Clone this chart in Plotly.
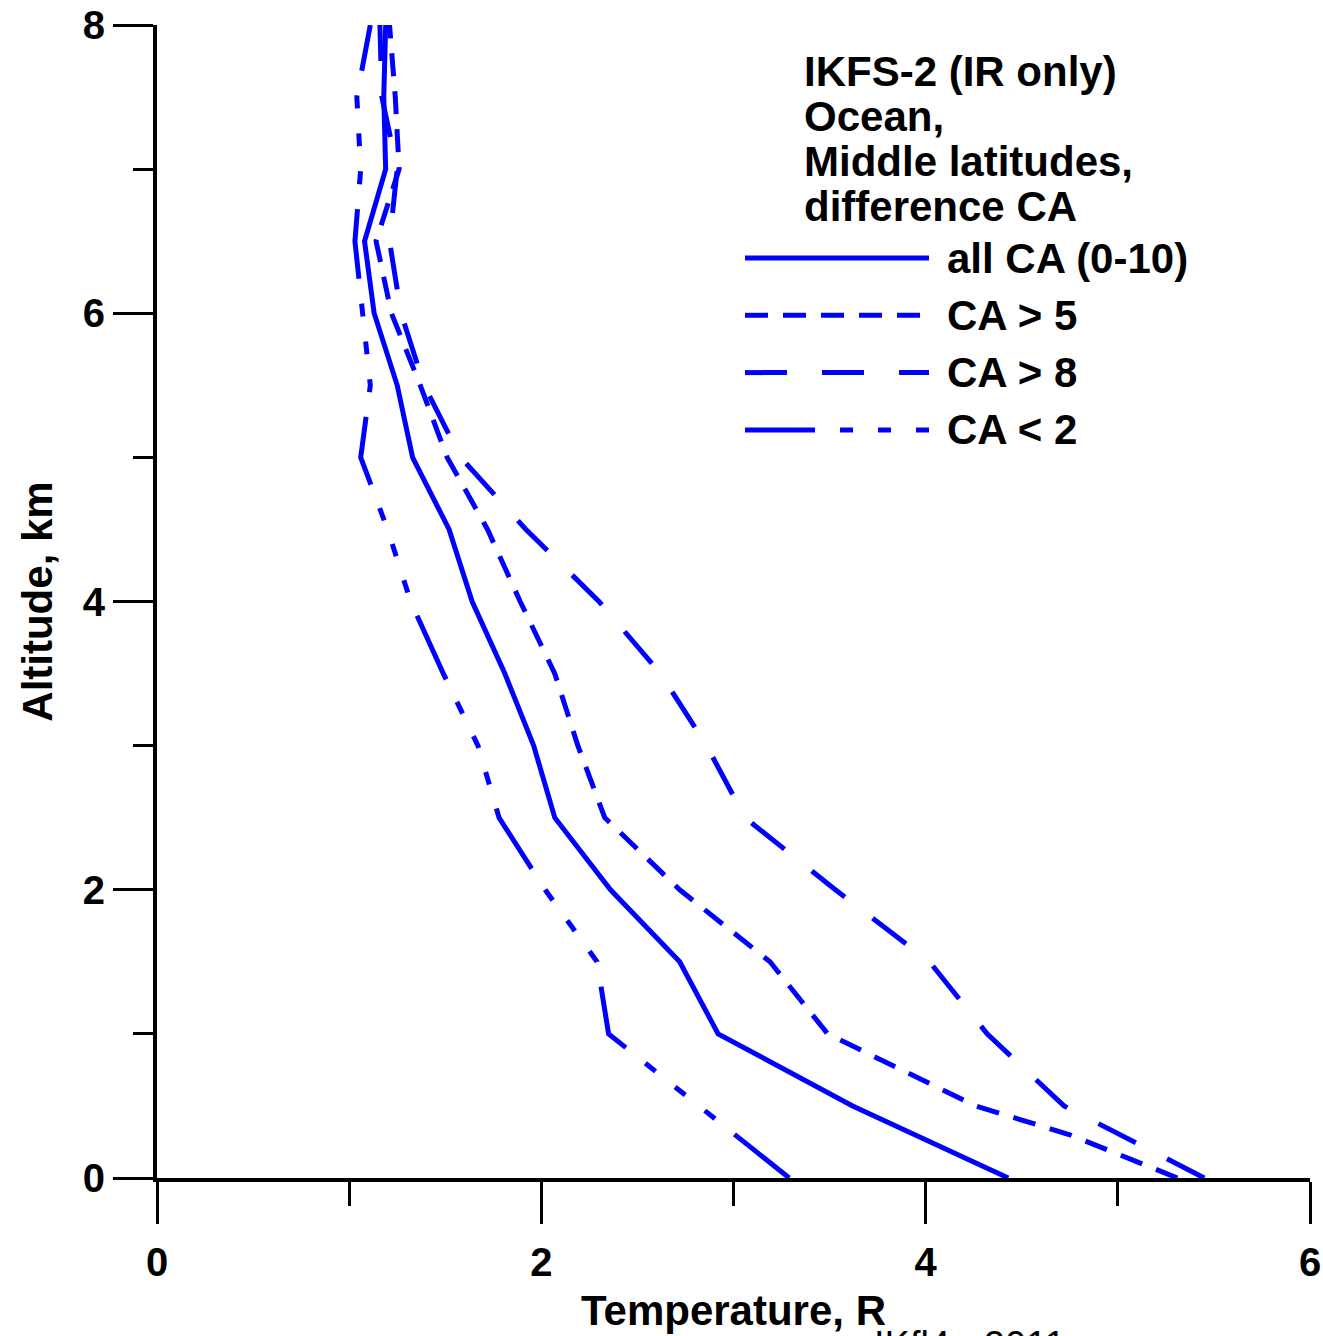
import plotly.graph_objects as go

# ---------------- data ----------------
alt = [0, 0.5, 1, 1.5, 2, 2.5, 3, 3.5, 4, 4.5, 5, 5.5, 6, 6.5, 7, 7.5, 8]
alt_ca5 = [0, 0.3, 0.5, 1, 1.5, 2, 2.5, 3, 3.5, 4, 4.5, 5, 5.5, 6, 6.5, 7, 7.5, 8]

all_ca = [4.43, 3.62, 2.92, 2.72, 2.36, 2.07, 1.96, 1.81, 1.64, 1.52, 1.33, 1.25, 1.13, 1.08, 1.19, 1.18, 1.19]
ca_gt5 = [5.31, 4.75, 4.26, 3.49, 3.19, 2.72, 2.33, 2.19, 2.07, 1.89, 1.72, 1.51, 1.37, 1.22, 1.14, 1.26, 1.24, 1.21]
ca_gt8 = [5.45, 4.72, 4.32, 4.02, 3.53, 3.06, 2.86, 2.62, 2.30, 1.92, 1.58, 1.39, 1.27, 1.21, 1.25, 1.17, 1.16]
ca_lt2 = [3.29, 2.82, 2.35, 2.29, 2.02, 1.78, 1.67, 1.49, 1.32, 1.20, 1.06, 1.11, 1.07, 1.03, 1.06, 1.04, 1.11]

series_names = ["all CA (0-10)", "CA > 5", "CA > 8", "CA < 2"]
title_lines = ["IKFS-2 (IR only)", "Ocean,", "Middle latitudes,", "difference CA"]
x_ticks = [0, 2, 4, 6]
y_ticks = [0, 2, 4, 6, 8]
footer_text = "IKfl4 - 2011"

# ---------------- styles ----------------
BLUE = "#0000FF"
FONT = "Arial, Liberation Sans, sans-serif"
W, H = 1323, 1336
ML, MR, MT, MB = 157, 13, 25, 158
PW, PH = W - ML - MR, H - MT - MB

dashes = ["solid", "23px,15px", "42px,35px", "70px,25px,13px,25px,13px,25px,13px,25px"]
xs = [all_ca, ca_gt5, ca_gt8, ca_lt2]
ys = [alt, alt_ca5, alt, alt]

fig = go.Figure()
for name, x, y, d in zip(series_names, xs, ys, dashes):
    fig.add_trace(go.Scatter(x=x, y=y, mode="lines", name=name,
                             line=dict(color=BLUE, width=5, dash=d),
                             cliponaxis=False, showlegend=False))


def px_x(p):
    return (p - ML) / PW


def px_y(p):
    return (H - MB - p) / PH


annotations = []
# header text block
for i, t in enumerate(title_lines):
    annotations.append(dict(text=t, xref="paper", yref="paper",
                            x=px_x(802), y=px_y(72 + 45 * i),
                            xanchor="left", yanchor="middle", showarrow=False,
                            font=dict(family=FONT, size=42, color="black", weight="bold")))

shapes = []
# manual legend
for i, (name, d) in enumerate(zip(series_names, dashes)):
    yy = px_y(258 + 57.3 * i)
    shapes.append(dict(type="line", xref="paper", yref="paper",
                       x0=px_x(745), x1=px_x(929), y0=yy, y1=yy,
                       line=dict(color=BLUE, width=5, dash=d)))
    annotations.append(dict(text=name, xref="paper", yref="paper",
                            x=px_x(945), y=yy, xanchor="left", yanchor="middle",
                            showarrow=False,
                            font=dict(family=FONT, size=42, color="black", weight="bold")))

# footer (partly cut off at page bottom, as in the original)
annotations.append(dict(text=footer_text, xref="paper", yref="paper",
                        x=px_x(970), y=px_y(1322), xanchor="center", yanchor="top",
                        showarrow=False,
                        font=dict(family=FONT, size=38, color="black")))

axis_common = dict(showline=True, linewidth=4, linecolor="black", mirror=False,
                   ticks="outside", tickwidth=3, tickcolor="black",
                   showgrid=False, zeroline=False,
                   tickfont=dict(family=FONT, size=40, color="black", weight="bold"))

fig.update_layout(
    width=W, height=H,
    margin=dict(l=ML, r=MR, t=MT, b=MB, autoexpand=False),
    paper_bgcolor="white", plot_bgcolor="white",
    xaxis=dict(range=[0, 6], tickvals=x_ticks, ticklen=42, ticklabelstandoff=4,
               minor=dict(dtick=1, tick0=0, ticklen=24, tickwidth=3, tickcolor="black", ticks="outside"),
               title=dict(text="Temperature, R", standoff=14,
                          font=dict(family=FONT, size=42, color="black", weight="bold")),
               **axis_common),
    yaxis=dict(range=[0, 8], tickvals=y_ticks, ticklen=40,
               minor=dict(dtick=1, tick0=0, ticklen=20, tickwidth=3, tickcolor="black", ticks="outside"),
               title=dict(text="Altitude, km", standoff=18,
                          font=dict(family=FONT, size=42, color="black", weight="bold")),
               **axis_common),
    annotations=annotations,
    shapes=shapes,
    showlegend=False,
)

fig.write_html("out.html", config={"displayModeBar": False},
               post_script="document.body.style.margin='0';document.body.style.overflow='hidden';")
